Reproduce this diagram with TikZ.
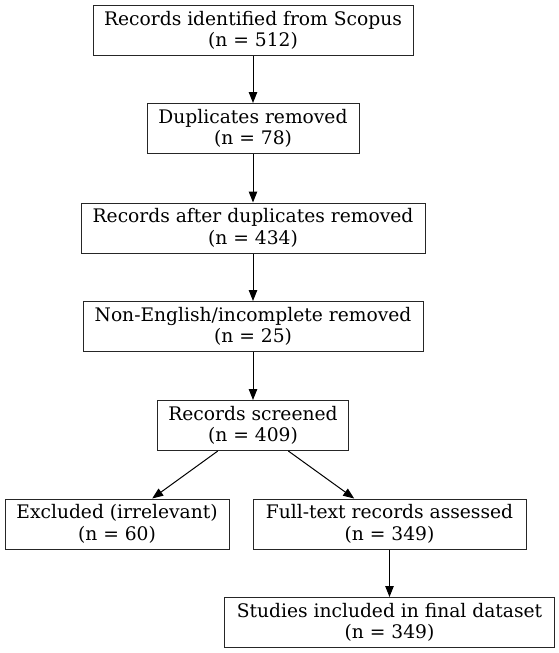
\documentclass[tikz,border=0pt]{standalone}
\usepackage{fontspec}
\setmainfont{DejaVu Serif}
\usetikzlibrary{arrows.meta}
\begin{document}
\begin{tikzpicture}[x=1pt,y=-1pt,
  box/.style={draw=black!85, line width=1pt, rectangle, align=center, inner sep=0pt,
    minimum height=50pt, font=\fontsize{18.67}{21.5}\selectfont},
  conn/.style={line width=1pt, -{Triangle[length=11pt,width=8.5pt]}}]
\useasboundingbox (0,0) rectangle (559,653);
\node[box, minimum width=320pt] (n1) at (253,30.5) {Records identified from Scopus\\(n = 512)};
\node[box, minimum width=212pt] (n2) at (253,128.5) {Duplicates removed\\(n = 78)};
\node[box, minimum width=344pt] (n3) at (253,228) {Records after duplicates removed\\(n = 434)};
\node[box, minimum width=340pt] (n4) at (253,326.5) {Non-English/incomplete removed\\(n = 25)};
\node[box, minimum width=191pt] (n5) at (253,425.5) {Records screened\\(n = 409)};
\node[box, minimum width=224pt] (n6) at (117,524) {Excluded (irrelevant)\\(n = 60)};
\node[box, minimum width=273pt] (n7) at (389.5,524) {Full-text records assessed\\(n = 349)};
\node[box, minimum width=330pt] (n8) at (389.5,622.5) {Studies included in final dataset\\(n = 349)};
\draw[conn] (n1) -- (n2);
\draw[conn] (n2) -- (n3);
\draw[conn] (n3) -- (n4);
\draw[conn] (n4) -- (n5);
\draw[conn] (n5) -- (n6);
\draw[conn] (n5) -- (n7);
\draw[conn] (n7) -- (n8);
\end{tikzpicture}
\end{document}
